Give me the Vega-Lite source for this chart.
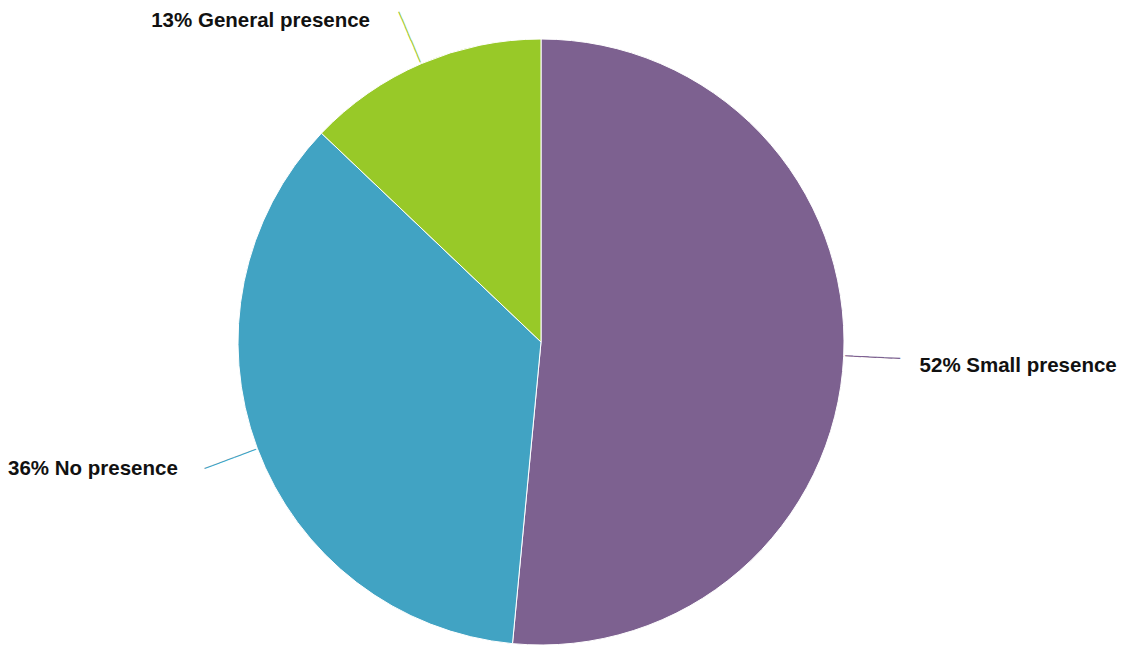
{
  "$schema": "https://vega.github.io/schema/vega-lite/v6.json",
  "autosize": "none",
  "width": 1082,
  "height": 608,
  "padding": {"left": 0, "right": 42, "top": 38, "bottom": 0},
  "background": "white",
  "config": {"view": {"stroke": null}},
  "data": {
    "values": [
      {"category": "Small presence", "value": 51.5, "label": "52% Small presence"},
      {"category": "No presence", "value": 35.6, "label": "36% No presence"},
      {"category": "General presence", "value": 12.9, "label": "13% General presence"}
    ]
  },
  "encoding": {
    "theta": {"field": "value", "type": "quantitative", "stack": true},
    "order": {"field": "category", "sort": "descending"},
    "color": {
      "field": "category",
      "type": "nominal",
      "legend": null,
      "scale": {
        "domain": ["Small presence", "No presence", "General presence"],
        "range": ["#7D6190", "#41A3C3", "#98C928"]
      }
    }
  },
  "layer": [
    {
      "mark": {"type": "arc", "radius": 303, "stroke": "white", "strokeWidth": 1}
    },
    {
      "mark": {"type": "text", "radius": 332, "font": "DejaVu Sans Mono", "fontSize": 13, "align": "center", "baseline": "middle"},
      "encoding": {
        "text": {"value": "───────"},
        "angle": {
          "condition": [
            {"test": "datum.category === 'Small presence'", "value": 2.7},
            {"test": "datum.category === 'No presence'", "value": 159.5}
          ],
          "value": 246.8
        }
      }
    },
    {
      "mark": {"type": "text", "radius": 375, "align": "left", "baseline": "middle", "dx": 4, "dy": 6, "font": "Liberation Sans", "fontSize": 20.5, "fontWeight": "bold"},
      "encoding": {
        "color": {"value": "#111111"},
        "text": {"condition": {"test": "datum.category === 'Small presence'", "field": "label"}, "value": ""}
      }
    },
    {
      "mark": {"type": "text", "radius": 360, "align": "right", "baseline": "middle", "dx": -26, "dy": 1, "font": "Liberation Sans", "fontSize": 20.5, "fontWeight": "bold"},
      "encoding": {
        "color": {"value": "#111111"},
        "text": {"condition": {"test": "datum.category === 'No presence'", "field": "label"}, "value": ""}
      }
    },
    {
      "mark": {"type": "text", "radius": 350, "align": "right", "baseline": "middle", "dx": -33, "dy": 1, "font": "Liberation Sans", "fontSize": 20.5, "fontWeight": "bold"},
      "encoding": {
        "color": {"value": "#111111"},
        "text": {"condition": {"test": "datum.category === 'General presence'", "field": "label"}, "value": ""}
      }
    }
  ]
}
